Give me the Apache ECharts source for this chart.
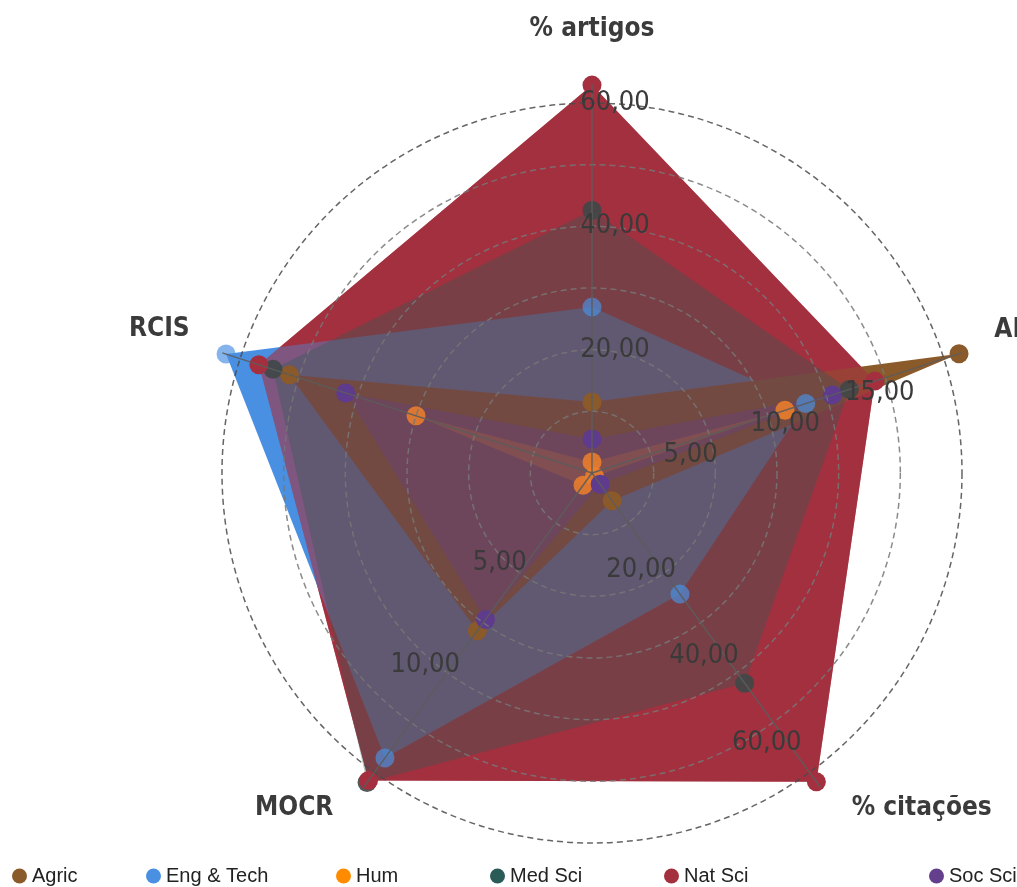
<!DOCTYPE html>
<html>
<head>
<meta charset="utf-8">
<script src="https://cdn.jsdelivr.net/npm/echarts@6/dist/echarts.min.js"></script>
<style>
  html, body { margin: 0; padding: 0; background: #fff; }
  #chart { width: 1017px; height: 887px; }
</style>
</head>
<body>
<div id="chart"></div>
<script>
// Indicators, clockwise from the top
const indicators = ['% artigos', 'AI', '% citações', 'MOCR', 'RCIS'];
// Value at the outer ring of each axis
const axisMax = [60, 18.6, 69.2, 14.6, 1.5];
// Tick labels shown on each axis
const axisTickLabels = [[20, 40, 60], [5, 10, 15], [20, 40, 60], [5, 10], []];

const groups = ['Agric', 'Eng & Tech', 'Hum', 'Med Sci', 'Nat Sci', 'Soc Sci'];
const groupColors = ['#8B5A2B', '#4A90E2', '#FF8C00', '#2B5B57', '#A4303F', '#643F8C'];

// Values per group, in indicator order
const agric    = [11.5, 19.4, 6.4, 7.7, 1.29];
const engTech  = [26.9, 11.3, 28.0, 13.9, 1.56];
const hum      = [1.8, 10.2, 0.8, 0.6, 0.75];
const medSci   = [42.6, 13.6, 48.6, 15.1, 1.36];
const natSci   = [62.9, 14.95, 71.4, 15.0, 1.42];
const socSci   = [5.5, 12.7, 2.6, 7.15, 1.05];
const groupValues = [agric, engTech, hum, medSci, natSci, socSci];

const CX = 592, CY = 473, R = 370;
// ECharts lays indicators out counter-clockwise; reorder so they read clockwise
const ring = [0, 4, 3, 2, 1];
const toRing = arr => ring.map(i => arr[i]);

const FONT = "'DejaVu Sans Condensed', 'DejaVu Sans', sans-serif";
const fmt = v => v.toFixed(2).replace('.', ',');
const labelMargin = [-23, -13, -17, -22, -15];
// Name placement tweaks per indicator
const nameStyles = [
  { padding: [0, 0, 8, 0] },
  { verticalAlign: 'bottom', lineHeight: 24, padding: [0, 0, 0, 0] },
  { verticalAlign: 'bottom', lineHeight: 14, padding: [0, 0, 0, 11] },
  { verticalAlign: 'bottom', lineHeight: 14, padding: [0, 10, 0, 0] },
  { verticalAlign: 'bottom', lineHeight: 26, padding: [0, 0, 0, 0] }
];

function labelFor(axisIdx, keep) {
  return {
    show: true,
    color: '#3a3a3a',
    fontSize: 27,
    fontFamily: FONT,
    align: 'center',
    verticalAlign: 'middle',
    margin: labelMargin[axisIdx],
    showMinLabel: false,
    showMaxLabel: true,
    formatter: v => keep.some(k => Math.abs(k - v) < 1e-6) ? fmt(v) : ''
  };
}

const hidden = { show: false };

// Main radar: rings, names and the % artigos scale
const radars = [{
  center: [CX, CY],
  radius: R,
  startAngle: 90,
  splitNumber: 6,
  shape: 'circle',
  z: 3,
  nameGap: 53,
  axisName: { color: '#3b3b3b', fontSize: 26, fontWeight: 'bold', fontFamily: FONT },
  indicator: ring.map(i => ({
    name: indicators[i],
    max: axisMax[i],
    nameTextStyle: nameStyles[i],
    axisLabel: i === 0 ? labelFor(0, axisTickLabels[0]) : { show: false }
  })),
  axisLine: hidden,
  axisTick: hidden,
  axisLabel: hidden,
  splitArea: hidden,
  splitLine: {
    show: true,
    lineStyle: {
      type: [6, 4],
      width: 1.5,
      color: ['#777', '#777', '#777', '#777', '#777', '#777', '#4a4a4a'],
      opacity: 0.85
    }
  }
}];

// Spokes, running out to the furthest points
radars.push({
  center: [CX, CY], radius: 388, startAngle: 90, z: 3,
  axisName: hidden,
  indicator: ring.map(i => ({ name: indicators[i], max: 1 })),
  axisLine: { show: true, lineStyle: { color: '#5c5c5c', width: 1.5, opacity: 0.9 } },
  axisTick: hidden, axisLabel: hidden, splitLine: hidden, splitArea: hidden
});

// Per-axis scales for the AI, % citações and MOCR tick labels
[1, 2, 3].forEach(ax => {
  const ticks = axisTickLabels[ax];
  const top = ticks[ticks.length - 1];
  radars.push({
    center: [CX, CY],
    radius: R * top / axisMax[ax],
    startAngle: 90,
    splitNumber: ticks.length,
    z: 3,
    axisName: hidden,
    indicator: ring.map(i => i === ax
      ? { name: indicators[i], max: top, axisLabel: labelFor(ax, ticks) }
      : { name: indicators[i], max: 1, axisLabel: { show: false } }),
    axisLine: hidden, axisTick: hidden, axisLabel: hidden, splitLine: hidden, splitArea: hidden
  });
});

function area(k, opacity, withDots) {
  return {
    name: groups[k],
    value: toRing(groupValues[k]),
    symbol: withDots ? 'circle' : 'none',
    symbolSize: 19,
    itemStyle: { color: groupColors[k] },
    lineStyle: { width: 0, opacity: 0 },
    areaStyle: { color: groupColors[k], opacity: opacity }
  };
}

// Filled shapes, stacked bottom to top (Agric markers sit under the tinted layers)
const areaItems = [
  area(4, 1),
  area(1, 1),
  area(0, 1, true),
  area(4, 0.6),
  area(3, 0.35),
  area(2, 0.22),
  area(5, 0.35)
];

// Markers for the other groups, drawn above the shapes
const dotColors = ['#8B5A2B', '#4A90E2', '#F0802A', '#3f4848', '#A4303F', '#5E3B8C'];
const dotOpacity = [1, 0.68, 0.85, 0.9, 1, 1];
const dotItems = groups.map((g, k) => ({ g, k })).filter(d => d.k !== 0).map(({ g, k }) => ({
  name: g,
  value: toRing(groupValues[k]),
  symbol: 'circle',
  symbolSize: 19,
  itemStyle: { color: dotColors[k], opacity: dotOpacity[k] },
  lineStyle: { width: 0, opacity: 0 }
}));

const legendLeft = [12, 146, 336, 490, 664, 929];
const legends = groups.map((g, k) => ({
  data: [{ name: g, itemStyle: { color: groupColors[k], opacity: 1 } }],
  left: legendLeft[k],
  top: 866,
  padding: 0,
  icon: 'circle',
  itemWidth: 15,
  itemHeight: 15,
  textStyle: { fontSize: 20, color: '#222', fontFamily: "'Liberation Sans', Arial, sans-serif" }
}));

const chart = echarts.init(document.getElementById('chart'), null, { renderer: 'canvas' });
chart.setOption({
  animation: false,
  backgroundColor: '#fff',
  legend: legends,
  radar: radars,
  series: [
    { type: 'radar', radarIndex: 0, z: 1, silent: true, emphasis: { disabled: true }, data: areaItems },
    { type: 'radar', radarIndex: 0, z: 2, silent: true, emphasis: { disabled: true }, data: dotItems }
  ]
});
</script>
</body>
</html>
